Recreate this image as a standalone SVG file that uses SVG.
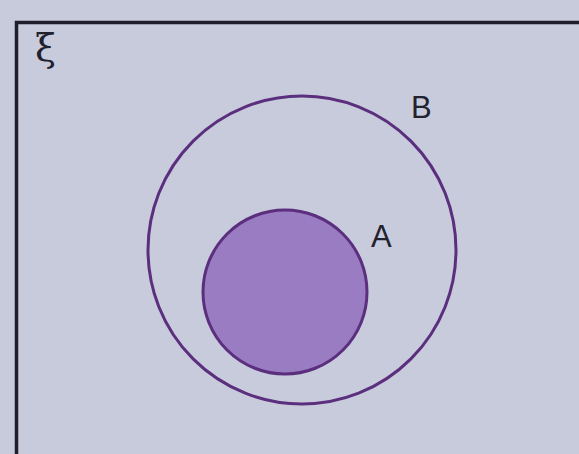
<svg xmlns="http://www.w3.org/2000/svg" width="579" height="454" viewBox="0 0 579 454">
<style>
.lbl{font-family:"Liberation Sans",Arial,sans-serif;font-size:31px;fill:#22222e}
.set{stroke:#5b2f7e;stroke-width:3}
</style>
<rect width="579" height="454" fill="#c8cbdc"/>
<g id="universe">
<path d="M16.5,460 V22.5 H590" fill="none" stroke="#1f1f2b" stroke-width="3.5"/>
<text x="35" y="61" font-family="'DejaVu Serif','Liberation Serif',serif" font-size="38" fill="#22222e">ξ</text>
</g>
<g id="B">
<circle cx="302" cy="250" r="154" fill="none" class="set"/>
<text class="lbl" x="411" y="118">B</text>
</g>
<g id="A">
<circle cx="285" cy="292" r="82" fill="#9a7cc3" class="set"/>
<text class="lbl" x="371" y="247">A</text>
</g>
</svg>
